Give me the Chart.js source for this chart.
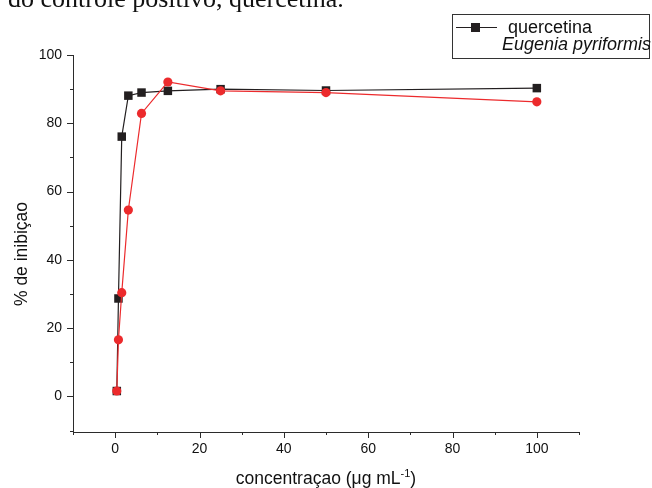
<!DOCTYPE html>
<html>
<head>
<meta charset="utf-8">
<script src="https://cdn.jsdelivr.net/npm/chart.js@4"></script>
<style>
  html, body { margin: 0; padding: 0; background: #fff; }
  canvas { display: block; }
</style>
</head>
<body>
<canvas id="chart" width="652" height="488"></canvas>
<script>
// concentrations (ug/mL) and % inhibition
const conc = [0.39, 0.78, 1.56, 3.125, 6.25, 12.5, 25, 50, 100];
const quercetina = [1.6, 28.7, 76.1, 88.1, 89.0, 89.5, 90.0, 89.6, 90.3];
const eugenia = [1.6, 16.6, 30.4, 54.6, 82.9, 92.1, 89.5, 89.0, 86.3];

const xMajor = [0, 20, 40, 60, 80, 100];
const xMinor = [-10, 10, 30, 50, 70, 90, 110];
const yMajor = [0, 20, 40, 60, 80, 100];
const yMinor = [-10, 10, 30, 50, 70, 90];

const seriesNames = ["quercetina", "Eugenia pyriformis"];
const xTitle = "concentraçao (μg mL";
const xTitleSup = "-1";
const yTitle = "% de inibiçao";
const pageText = "do controle positivo, quercetina.";

const axisColor = "#2b2b2b";
const blackColor = "#231f20";
const redColor = "#ec2a2c";
const sans = "'Liberation Sans', Arial, sans-serif";

function points(values) {
    return conc.map((c, i) => ({ x: c, y: values[i] }));
}

// tick marks, axis titles, legend box and the cropped line of text above the plot
const paperPlugin = {
    id: "paper",
    afterDraw(chart) {
        const ctx = chart.ctx;
        const xs = chart.scales.x;
        const ys = chart.scales.y;
        ctx.save();
        ctx.strokeStyle = axisColor;
        ctx.lineWidth = 1;

        const xTick = (v, len) => {
            const px = Math.round(xs.getPixelForValue(v)) + 0.5;
            ctx.beginPath();
            ctx.moveTo(px, xs.top);
            ctx.lineTo(px, xs.top + len);
            ctx.stroke();
        };
        const yTick = (v, len) => {
            const py = Math.round(ys.getPixelForValue(v)) + 0.5;
            ctx.beginPath();
            ctx.moveTo(ys.right, py);
            ctx.lineTo(ys.right - len, py);
            ctx.stroke();
        };
        xMajor.forEach(v => xTick(v, 6));
        xMinor.forEach(v => xTick(v, 3));
        yMajor.forEach(v => yTick(v, 6));
        yMinor.forEach(v => yTick(v, 3));

        // x axis title with superscript
        ctx.fillStyle = "#111";
        ctx.textBaseline = "alphabetic";
        const titleFont = "17.5px " + sans;
        const supFont = "11px " + sans;
        ctx.font = titleFont;
        const w1 = ctx.measureText(xTitle).width;
        ctx.font = supFont;
        const w2 = ctx.measureText(xTitleSup).width;
        ctx.font = titleFont;
        const w3 = ctx.measureText(")").width;
        let tx = (chart.chartArea.left + chart.chartArea.right) / 2 - (w1 + w2 + w3) / 2;
        ctx.textAlign = "left";
        ctx.fillText(xTitle, tx, 484);
        ctx.font = supFont;
        ctx.fillText(xTitleSup, tx + w1, 477);
        ctx.font = titleFont;
        ctx.fillText(")", tx + w1 + w2, 484);

        // y axis title
        ctx.save();
        ctx.translate(27, 254);
        ctx.rotate(-Math.PI / 2);
        ctx.textAlign = "center";
        ctx.font = "17.5px " + sans;
        ctx.fillText(yTitle, 0, 0);
        ctx.restore();

        // legend
        ctx.strokeStyle = "#333";
        ctx.strokeRect(452.5, 14.5, 197, 44);
        ctx.strokeStyle = blackColor;
        ctx.beginPath();
        ctx.moveTo(456, 27.5);
        ctx.lineTo(497, 27.5);
        ctx.stroke();
        ctx.fillStyle = blackColor;
        ctx.fillRect(471, 23, 9, 9);
        ctx.fillStyle = "#111";
        ctx.textAlign = "left";
        ctx.font = "18px " + sans;
        ctx.fillText(chart.data.datasets[0].label, 508, 33);
        ctx.font = "italic 18px " + sans;
        ctx.fillText(chart.data.datasets[1].label, 502, 50);

        // line of document text cut off at the top
        ctx.font = "26px 'Liberation Serif', 'Times New Roman', serif";
        ctx.fillStyle = "#111";
        ctx.fillText(pageText, 8, 6.5);

        ctx.restore();
    }
};

new Chart(document.getElementById("chart"), {
    type: "line",
    data: {
        datasets: [{
            label: seriesNames[0],
            data: points(quercetina),
            borderColor: blackColor,
            backgroundColor: blackColor,
            borderWidth: 1.2,
            pointStyle: "rect",
            pointRadius: 6,
            pointBorderWidth: 0,
            pointBackgroundColor: blackColor,
            tension: 0,
            order: 2
        }, {
            label: seriesNames[1],
            data: points(eugenia),
            borderColor: redColor,
            backgroundColor: redColor,
            borderWidth: 1.2,
            pointStyle: "circle",
            pointRadius: 4.6,
            pointBorderWidth: 0,
            pointBackgroundColor: redColor,
            tension: 0,
            order: 1
        }]
    },
    options: {
        responsive: false,
        animation: false,
        devicePixelRatio: 1,
        clip: false,
        layout: { padding: { left: 0, right: 73, top: 55, bottom: 0 } },
        plugins: {
            legend: { display: false },
            tooltip: { enabled: false }
        },
        scales: {
            x: {
                type: "linear",
                min: -10,
                max: 110,
                afterBuildTicks: s => { s.ticks = xMajor.map(v => ({ value: v })); },
                afterFit: s => { s.height = 56; },
                grid: { display: false, drawTicks: false },
                border: { display: true, color: axisColor, width: 1 },
                ticks: {
                    color: "#111",
                    padding: 9,
                    maxRotation: 0,
                    font: { family: sans, size: 14 }
                }
            },
            y: {
                type: "linear",
                min: -10.4,
                max: 100,
                afterBuildTicks: s => { s.ticks = yMajor.map(v => ({ value: v })); },
                afterFit: s => { s.width = 73; },
                grid: { display: false, drawTicks: false },
                border: { display: true, color: axisColor, width: 1 },
                ticks: {
                    color: "#111",
                    padding: 11,
                    font: { family: sans, size: 14 }
                }
            }
        }
    },
    plugins: [paperPlugin]
});
</script>
</body>
</html>
